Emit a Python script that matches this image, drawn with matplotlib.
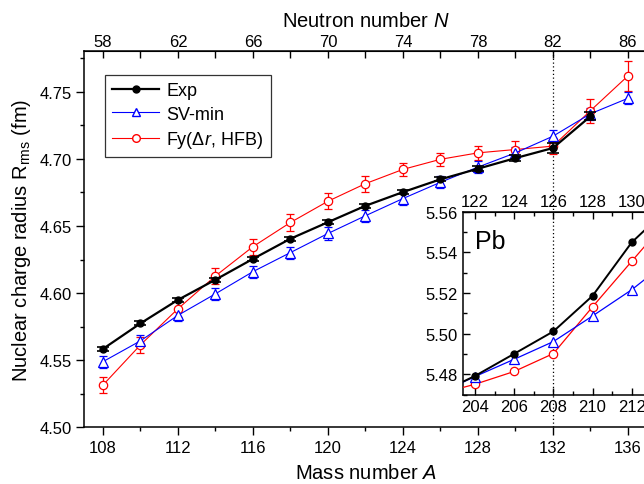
import matplotlib
matplotlib.use('Agg')
import matplotlib.pyplot as plt
from matplotlib.lines import Line2D
from matplotlib.ticker import MultipleLocator, FixedLocator, FormatStrFormatter

plt.rcParams['font.family'] = ['Liberation Sans', 'DejaVu Sans']
plt.rcParams['mathtext.fontset'] = 'custom'
plt.rcParams['mathtext.rm'] = 'Liberation Sans'
plt.rcParams['mathtext.it'] = 'Liberation Sans:italic'
plt.rcParams['mathtext.bf'] = 'Liberation Sans:bold'

# ---- Sn isotopes (main panel) ----
exp_A = [108, 110, 112, 114, 116, 118, 120, 122, 124, 126, 128, 130, 132, 134]
exp_R = [4.5585, 4.5775, 4.5950, 4.6100, 4.6255, 4.6405, 4.6528, 4.6650, 4.6752,
         4.6847, 4.6926, 4.7005, 4.7080, 4.7316]
exp_err = [0.0015, 0.0015, 0.0015, 0.0015, 0.0015, 0.0015, 0.0015, 0.0015, 0.0015,
           0.0015, 0.002, 0.002, 0.004, 0.003]

sv_A = [108, 110, 112, 114, 116, 118, 120, 122, 124, 126, 128, 130, 132, 134, 136]
sv_R = [4.5490, 4.5645, 4.5835, 4.5995, 4.6160, 4.6302, 4.6444, 4.6576, 4.6704,
        4.6825, 4.6938, 4.7044, 4.7168, 4.7335, 4.7450]
sv_err = [0.0045] * 15

fy_A = [108, 110, 112, 114, 116, 118, 120, 122, 124, 126, 128, 130, 132, 134, 136]
fy_R = [4.5316, 4.5615, 4.5884, 4.6128, 4.6346, 4.6526, 4.6684, 4.6815, 4.6921,
        4.6996, 4.7044, 4.7069, 4.7094, 4.7358, 4.7617]
fy_err = [0.006, 0.006, 0.006, 0.006, 0.006, 0.006, 0.006, 0.006, 0.005,
          0.005, 0.005, 0.006, 0.006, 0.009, 0.011]

# neutron-number ticks on the top axis (Z = 50)
top_N_major = [58, 62, 66, 70, 74, 78, 82, 86]
top_N_minor = [60, 64, 68, 72, 76, 80, 84]

# ---- Pb isotopes (inset) ----
pb_A = [202, 204, 206, 208, 210, 212, 214]
pb_exp = [5.4700, 5.4792, 5.4901, 5.5011, 5.5186, 5.5449, 5.5630]
pb_sv = [5.4700, 5.4789, 5.4874, 5.4961, 5.5087, 5.5216, 5.5368]
pb_fy = [5.4700, 5.4751, 5.4814, 5.4902, 5.5132, 5.5356, 5.5578]
pb_N_major = [122, 124, 126, 128, 130]

labels = ['Exp', 'SV-min', 'Fy(Δ$r$, HFB)']
colors = ['black', '#0000ff', '#ff0000']

fig = plt.figure(figsize=(6.44, 4.85), dpi=100)
ax = fig.add_axes([0.1308, 0.1165, 0.8734, 0.7757])

# main data
ax.errorbar(fy_A, fy_R, yerr=fy_err, fmt='none', ecolor=colors[2], elinewidth=0.9,
            capsize=2.6, capthick=0.9, zorder=2)
ax.plot(fy_A, fy_R, '-o', color=colors[2], lw=0.8, ms=6, mfc='white',
        mec=colors[2], mew=0.9, zorder=3)
ax.errorbar(sv_A, sv_R, yerr=sv_err, fmt='none', ecolor=colors[1], elinewidth=0.9,
            capsize=2.6, capthick=0.9, zorder=2)
ax.plot(sv_A, sv_R, '-^', color=colors[1], lw=0.8, ms=6.5, mfc='white',
        mec=colors[1], mew=0.9, zorder=3)
ax.errorbar(exp_A, exp_R, yerr=exp_err, fmt='none', ecolor='black', elinewidth=1.2,
            capsize=4.5, capthick=1.2, zorder=4)
ax.plot(exp_A, exp_R, '-o', color='black', lw=1.6, ms=5, mfc='black', mec='black',
        zorder=5)

ax.axvline(132, color='black', ls=(0, (1, 2)), lw=0.9, zorder=1)

ax.set_xlim(107, 137)
ax.set_ylim(4.50, 4.78)
ax.xaxis.set_major_locator(MultipleLocator(4))
ax.xaxis.set_minor_locator(MultipleLocator(2))
ax.yaxis.set_major_locator(MultipleLocator(0.05))
ax.yaxis.set_minor_locator(MultipleLocator(0.025))
ax.yaxis.set_major_formatter(FormatStrFormatter('%.2f'))
ax.tick_params(which='both', direction='out', top=False, right=False, labelsize=12,
               width=1.0)
ax.tick_params(which='major', length=5.5)
ax.tick_params(which='minor', length=3)
ax.spines['right'].set_visible(False)
for s in ['left', 'bottom', 'top']:
    ax.spines[s].set_linewidth(1.1)
ax.set_xlabel('Mass number $A$', fontsize=14.5, labelpad=6)
ax.set_ylabel('Nuclear charge radius R$_{\\mathrm{rms}}$ (fm)', fontsize=14.5, labelpad=5)

secx = ax.secondary_xaxis('top', functions=(lambda a: a - 50, lambda n: n + 50))
secx.xaxis.set_major_locator(FixedLocator(top_N_major))
secx.xaxis.set_minor_locator(FixedLocator(top_N_minor))
secx.tick_params(which='both', direction='in', labelsize=12, width=1.0, pad=1.5)
secx.tick_params(which='major', length=5)
secx.tick_params(which='minor', length=5)
secx.set_xlabel('Neutron number $N$', fontsize=14.5, labelpad=6)

handles = [
    Line2D([], [], color='black', lw=1.6, marker='o', ms=5, mfc='black'),
    Line2D([], [], color=colors[1], lw=0.8, marker='^', ms=6, mfc='white', mec=colors[1]),
    Line2D([], [], color=colors[2], lw=0.8, marker='o', ms=5.5, mfc='white', mec=colors[2]),
]
leg = ax.legend(handles, labels, loc='upper left', bbox_to_anchor=(0.037, 0.937),
                borderaxespad=0, fontsize=13, frameon=True, fancybox=False,
                edgecolor='black', handlelength=2.6, handletextpad=0.4,
                labelspacing=0.35, borderpad=0.4)
leg.get_frame().set_linewidth(0.9)

# ---- inset ----
ins = fig.add_axes([0.7185, 0.1843, 0.2928, 0.3771])
ins.set_facecolor('white')
ins.plot(pb_A, pb_fy, '-o', color=colors[2], lw=0.9, ms=6, mfc='white', mec=colors[2],
         mew=0.9, zorder=3)
ins.plot(pb_A, pb_sv, '-^', color=colors[1], lw=0.9, ms=6.5, mfc='white', mec=colors[1],
         mew=0.9, zorder=3)
ins.plot(pb_A, pb_exp, '-o', color='black', lw=1.4, ms=5, mfc='black', mec='black',
         zorder=4)
ins.axvline(208, color='black', ls=(0, (1, 2)), lw=0.9, zorder=1)
ins.set_xlim(203.37, 213.0)
ins.set_ylim(5.47, 5.56)
ins.xaxis.set_major_locator(MultipleLocator(2))
ins.xaxis.set_minor_locator(MultipleLocator(1))
ins.yaxis.set_major_locator(MultipleLocator(0.02))
ins.yaxis.set_minor_locator(MultipleLocator(0.01))
ins.yaxis.set_major_formatter(FormatStrFormatter('%.2f'))
ins.tick_params(which='both', direction='in', top=False, right=False, labelsize=12,
                width=1.0)
ins.tick_params(which='major', length=5)
ins.tick_params(which='minor', length=3)
ins.spines['right'].set_visible(False)
for s in ['left', 'bottom', 'top']:
    ins.spines[s].set_linewidth(1.1)
ins.text(0.065, 0.80, 'Pb', transform=ins.transAxes, fontsize=18, ha='left',
         va='baseline')

secx2 = ins.secondary_xaxis('top', functions=(lambda a: a - 82, lambda n: n + 82))
secx2.xaxis.set_major_locator(FixedLocator(pb_N_major))
secx2.xaxis.set_minor_locator(MultipleLocator(1))
secx2.tick_params(which='both', direction='in', labelsize=12, width=1.0, pad=2)
secx2.tick_params(which='major', length=5)
secx2.tick_params(which='minor', length=3)

fig.savefig('out.png', dpi=100)
